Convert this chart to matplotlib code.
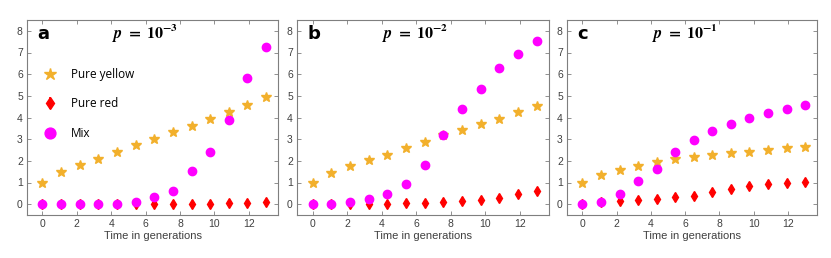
import matplotlib
matplotlib.use("Agg")
import matplotlib.pyplot as plt

plt.rcParams['font.family'] = ['Liberation Sans', 'DejaVu Sans']
plt.rcParams['mathtext.fontset'] = 'stix'

# time points (generations)
t = [0, 1.08, 2.17, 3.25, 4.33, 5.42, 6.5, 7.58, 8.67, 9.75, 10.83, 11.92, 13]

# panel a, p = 1e-3
yellow_a = [1.0, 1.49, 1.81, 2.1, 2.43, 2.71, 3.02, 3.31, 3.61, 3.92, 4.26, 4.59, 4.93]
red_a = [0, 0, 0, 0, 0, 0.01, 0.01, 0.01, 0.01, 0.02, 0.04, 0.07, 0.1]
mix_a = [0, 0, 0, 0.01, 0.02, 0.12, 0.31, 0.62, 1.51, 2.42, 3.89, 5.82, 7.24]

# panel b, p = 1e-2
yellow_b = [1.0, 1.46, 1.75, 2.02, 2.29, 2.57, 2.85, 3.17, 3.42, 3.68, 3.95, 4.25, 4.52]
red_b = [0, 0, 0, 0.01, 0.02, 0.04, 0.07, 0.09, 0.14, 0.18, 0.29, 0.47, 0.63]
mix_b = [0, 0.03, 0.08, 0.23, 0.48, 0.91, 1.83, 3.18, 4.4, 5.31, 6.29, 6.91, 7.54]

# panel c, p = 1e-1
yellow_c = [1.0, 1.36, 1.58, 1.78, 1.95, 2.08, 2.19, 2.27, 2.35, 2.42, 2.5, 2.58, 2.63]
red_c = [0, 0.08, 0.14, 0.2, 0.26, 0.31, 0.4, 0.54, 0.69, 0.83, 0.93, 0.99, 1.03]
mix_c = [0, 0.12, 0.48, 1.05, 1.62, 2.42, 2.95, 3.38, 3.68, 4.0, 4.2, 4.4, 4.57]

red_err = 0.12

letters = ['a', 'b', 'c']
titles = [r'$\mathbfit{p}\ \mathbf{=}\ \mathbf{10^{-3}}$',
          r'$\mathbfit{p}\ \mathbf{=}\ \mathbf{10^{-2}}$',
          r'$\mathbfit{p}\ \mathbf{=}\ \mathbf{10^{-1}}$']
yellows = [yellow_a, yellow_b, yellow_c]
reds = [red_a, red_b, red_c]
mixes = [mix_a, mix_b, mix_c]

col_y = '#f2b02c'
col_r = '#ff0000'
col_m = '#ff00ff'
gray = '#7f7f7f'

fig = plt.figure(figsize=(8.31, 2.58), dpi=100)
lefts = [27/831, 297/831, 567/831]
widths = [251/831, 252/831, 250/831]

for i in range(3):
    ax = fig.add_axes([lefts[i], 43/258, widths[i], 195/258])
    hy, = ax.plot(t, yellows[i], '*', color=col_y, ms=7, mec=col_y, label='Pure yellow')
    hr = ax.errorbar(t, reds[i], yerr=red_err, fmt='d', color=col_r, ms=5,
                     elinewidth=1.2, capsize=0, label='Pure red', zorder=2)
    hm, = ax.plot(t, mixes[i], 'o', color=col_m, ms=6, mec=col_m, label='Mix', zorder=3)
    ax.set_xlim(-0.9, 13.7)
    ax.set_ylim(-0.5, 8.5)
    ax.set_xticks([0, 2, 4, 6, 8, 10, 12])
    ax.set_yticks(range(9))
    ax.tick_params(direction='in', top=True, right=True, length=3, width=0.6,
                   colors=gray, labelcolor='#404040', labelsize=7.5, pad=3)
    for s in ax.spines.values():
        s.set_color(gray)
        s.set_linewidth(0.8)
    ax.set_xlabel('Time in generations', fontsize=8, color='#404040', labelpad=1)
    ax.text(0.04, 0.93, letters[i], transform=ax.transAxes, fontsize=13,
            fontweight='bold', va='center', ha='left', family='DejaVu Sans')
    ax.text(0.47, 0.93, titles[i], transform=ax.transAxes, fontsize=11.5,
            va='center', ha='center')
    if i == 0:
        ax.legend([hy, hr, hm], ['Pure yellow', 'Pure red', 'Mix'],
                  loc='upper left', bbox_to_anchor=(0.02, 0.81), frameon=False,
                  prop={'family': 'Open Sans', 'size': 8.5}, labelspacing=1.4,
                  handlelength=1.2, handletextpad=1.2, markerscale=1.3)

fig.savefig('out.png', dpi=100)
